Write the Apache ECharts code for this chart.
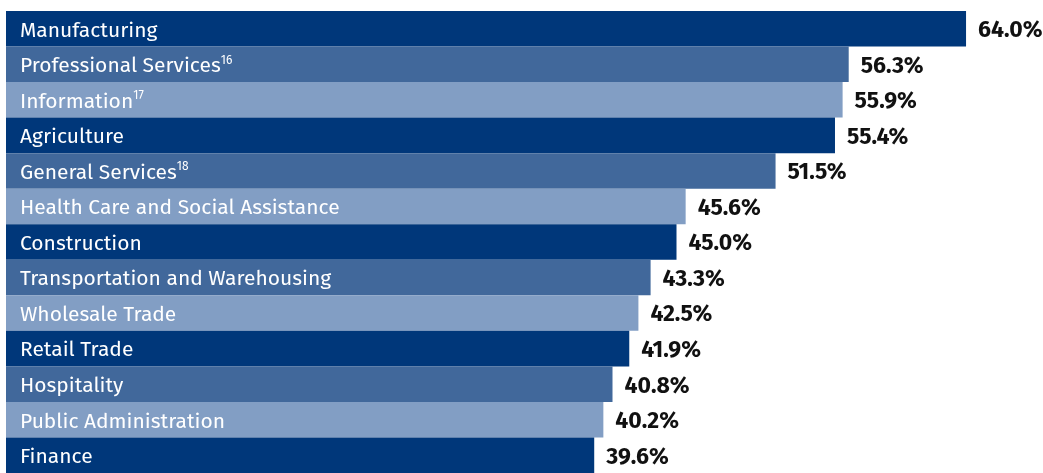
<!DOCTYPE html>
<html>
<head>
<meta charset="utf-8">
<script src="https://cdn.jsdelivr.net/npm/echarts@6/dist/echarts.min.js"></script>
<style>
html,body{margin:0;padding:0;background:#fff;}
#chart{width:1043px;height:473px;}
</style>
</head>
<body>
<div id="chart"></div>
<script>
const categories = ["Manufacturing","Professional Services","Information","Agriculture","General Services","Health Care and Social Assistance","Construction","Transportation and Warehousing","Wholesale Trade","Retail Trade","Hospitality","Public Administration","Finance"];
const footnotes = ["","16","17","","18","","","","","","","",""];
const values = [64.0,56.3,55.9,55.4,51.5,45.6,45.0,43.3,42.5,41.9,40.8,40.2,39.6];
const palette = ["#00377A","#41689B","#829EC4"];

const chart = echarts.init(document.getElementById('chart'));
const FONT = '"Fira Sans","Open Sans","Noto Sans",sans-serif';
chart.setOption({
  animation:false,
  grid:{left:6,right:16,top:11,bottom:0,containLabel:false},
  xAxis:{type:'value',min:1,max:68,show:false},
  yAxis:{type:'category',data:categories,inverse:true,show:false},
  series:[
    {
      type:'bar',
      data:values.map((v,i)=>({value:v,itemStyle:{color:palette[i%3]}})),
      barCategoryGap:0,
      barGap:'-100%',
      label:{show:true,position:'right',distance:12,color:'#111',fontWeight:'bold',fontSize:23,fontFamily:FONT,
        offset:[0,2],
        formatter:p=>p.value.toFixed(1)+'%'}
    },
    {
      type:'bar',
      data:values,
      barCategoryGap:0,
      barGap:'-100%',
      itemStyle:{color:'rgba(0,0,0,0)'},
      z:5,
      label:{show:true,position:'insideLeft',distance:14,color:'#fff',fontSize:21,fontFamily:FONT,
        offset:[0,2],
        formatter:p=>{const f=footnotes[p.dataIndex];return '{n|'+categories[p.dataIndex]+'}'+(f?'{s|'+f+'}':'');},
        rich:{n:{color:'#fff',fontSize:21,fontFamily:FONT,lineHeight:24},
              s:{color:'#fff',fontSize:12,fontFamily:FONT,lineHeight:24,verticalAlign:'top',padding:[0,0,6,0]}}}
    }
  ]
});
</script>
</body>
</html>
